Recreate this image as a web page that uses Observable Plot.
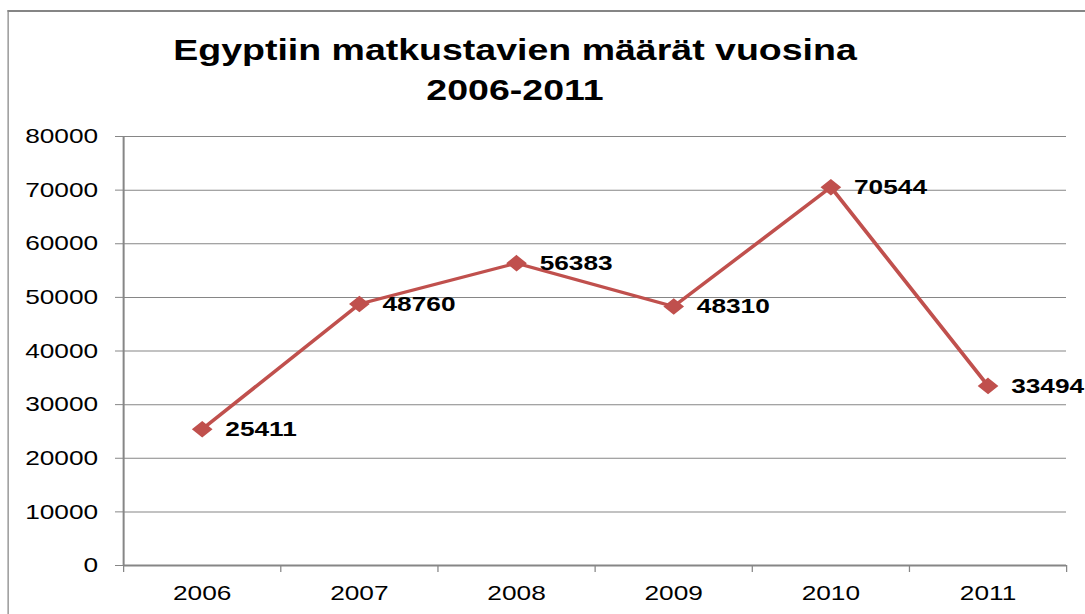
<!DOCTYPE html>
<html>
<head>
<meta charset="utf-8">
<script src="https://cdn.jsdelivr.net/npm/d3@7"></script>
<script src="https://cdn.jsdelivr.net/npm/@observablehq/plot@0.6"></script>
<style>
  html, body { margin: 0; padding: 0; background: #fff; overflow: hidden; }
  #wrap {
    position: absolute; left: 0; top: 0; width: 868px; height: 614px;
    transform: scaleX(1.25); transform-origin: 0 0;
    font-family: "Liberation Sans", Arial, sans-serif;
  }
  #frame {
    position: absolute; left: 6.4px; top: 10px; width: 1000px; height: 700px;
    border-left: 1.6px solid #858585; border-top: 2px solid #858585;
    z-index: 2; pointer-events: none;
  }
  #title {
    position: absolute; left: 0; top: 30px; width: 824px; text-align: center;
    font-size: 30px; font-weight: bold; line-height: 40px; color: #000;
  }
  #chart { position: absolute; left: 0; top: 118px; z-index: 1; }
</style>
</head>
<body>
<div id="wrap">
  <div id="frame"></div>
  <div id="title">Egyptiin matkustavien määrät vuosina<br>2006-2011</div>
  <div id="chart"></div>
</div>
<script>
const years = [2006, 2007, 2008, 2009, 2010, 2011];
const values = [25411, 48760, 56383, 48310, 70544, 33494];
const yTicks = [0, 10000, 20000, 30000, 40000, 50000, 60000, 70000, 80000];
const categoryBounds = [2005.5, 2006.5, 2007.5, 2008.5, 2009.5, 2010.5, 2011.5];

const data = years.map((year, i) => ({year, value: values[i]}));
const gray = "#868686";
const red = "#C0504D";

const chart = Plot.plot({
  width: 868,
  height: 496,
  marginLeft: 98.4,
  marginRight: 15.2,
  marginTop: 18,
  marginBottom: 49,
  style: {fontFamily: "Liberation Sans, Arial, sans-serif", fontSize: "21px", color: "#000", background: "transparent"},
  x: {type: "linear", domain: [categoryBounds[0], categoryBounds[categoryBounds.length - 1]], label: null},
  y: {domain: [yTicks[0], yTicks[yTicks.length - 1]], label: null},
  marks: [
    Plot.ruleY(yTicks.filter(d => d > 0), {stroke: gray, strokeWidth: 1}),
    Plot.axisY({ticks: yTicks, tickSize: 6.4, tickPadding: 14, tickFormat: d => String(d), stroke: gray, fill: "#000", fontSize: 21, label: null}),
    Plot.axisX({ticks: categoryBounds, tickSize: 7, stroke: gray, fill: "none", label: null}),
    Plot.axisX({ticks: years, tickSize: 0, tickPadding: 20, tickFormat: d => String(d), fill: "#000", fontSize: 21, label: null}),
    Plot.ruleY([0], {stroke: gray, strokeWidth: 1.8}),
    Plot.ruleX([categoryBounds[0]], {y1: yTicks[0], y2: yTicks[yTicks.length - 1], stroke: gray, strokeWidth: 1.6}),
    Plot.line(data, {x: "year", y: "value", stroke: red, strokeWidth: 3.2}),
    Plot.dot(data, {x: "year", y: "value", symbol: "diamond2", r: 6.5, fill: red, stroke: red}),
    Plot.text(data, {x: "year", y: "value", text: d => String(d.value), dx: 18.5, textAnchor: "start", fontWeight: "bold", fontSize: 21, fill: "#000"})
  ]
});
document.getElementById("chart").appendChild(chart);
</script>
</body>
</html>
